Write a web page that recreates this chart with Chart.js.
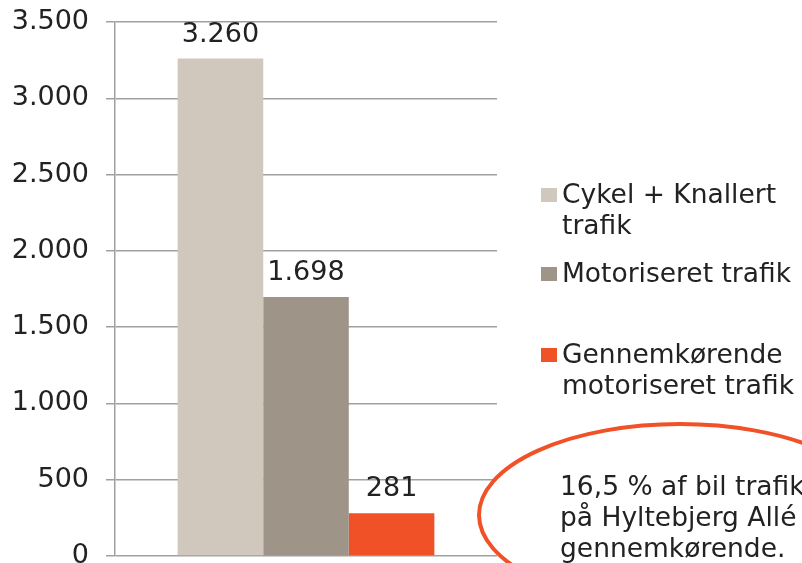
<!DOCTYPE html>
<html>
<head>
<meta charset="utf-8">
<script src="https://cdn.jsdelivr.net/npm/chart.js@4"></script>
<style>
  html, body { margin: 0; padding: 0; background: #fff; }
  #wrap { width: 802px; height: 563px; }
</style>
</head>
<body>
<div id="wrap"><canvas id="chart" width="802" height="563"></canvas></div>
<script>
// Data
const categories = ['Hyltebjerg Allé'];
const seriesNames = [
    ['Cykel + Knallert', 'trafik'],
    ['Motoriseret trafik'],
    ['Gennemkørende', 'motoriseret trafik'],
];
const cykelValues = [3260];
const motorValues = [1698];
const gennemValues = [281];
const yTicks = [0, 500, 1000, 1500, 2000, 2500, 3000, 3500];
const noteLines = ['16,5 % af bil trafikken', 'på Hyltebjerg Allé er', 'gennemkørende.'];

const FONT = "'DejaVu Sans', Verdana, sans-serif";
const colors = ['#d0c8bd', '#9e9488', '#f05127'];

// Danish thousands separator
function fmt(v) {
    return String(v).replace(/\B(?=(\d{3})+(?!\d))/g, '.');
}

// value labels above the bars
const valueLabels = {
    id: 'valueLabels',
    afterDatasetsDraw(chart) {
        const ctx = chart.ctx;
        ctx.save();
        ctx.font = '27px ' + FONT;
        ctx.fillStyle = '#222';
        ctx.textAlign = 'center';
        ctx.textBaseline = 'alphabetic';
        chart.data.datasets.forEach((ds, i) => {
            chart.getDatasetMeta(i).data.forEach((bar, j) => {
                ctx.fillText(fmt(ds.data[j]), bar.x, bar.y - 17);
            });
        });
        ctx.restore();
    }
};

// legend on the right and the circled note
const sideBits = {
    id: 'sideBits',
    afterDraw(chart) {
        const ctx = chart.ctx;
        ctx.save();
        ctx.font = '26.5px ' + FONT;
        ctx.textAlign = 'left';
        ctx.textBaseline = 'alphabetic';
        const rows = [[188, 203], [267, 282], [348, 363]];
        seriesNames.forEach((lines, i) => {
            ctx.fillStyle = colors[i];
            ctx.fillRect(541, rows[i][0], 16, 14);
            ctx.fillStyle = '#222';
            lines.forEach((t, k) => ctx.fillText(t, 562, rows[i][1] + k * 31));
        });

        // note ellipse
        ctx.strokeStyle = '#f05127';
        ctx.lineWidth = 4;
        ctx.beginPath();
        ctx.ellipse(680, 515, 201, 91, 0, 0, Math.PI * 2);
        ctx.stroke();
        ctx.fillStyle = '#222';
        noteLines.forEach((t, k) => ctx.fillText(t, 560, 495 + k * 31));
        ctx.restore();
    }
};

new Chart('chart', {
    type: 'bar',
    data: {
        labels: categories,
        datasets: [
            { label: seriesNames[0].join(' '), data: cykelValues, backgroundColor: colors[0] },
            { label: seriesNames[1].join(' '), data: motorValues, backgroundColor: colors[1] },
            { label: seriesNames[2].join(' '), data: gennemValues, backgroundColor: colors[2] },
        ]
    },
    options: {
        responsive: false,
        animation: false,
        layout: { padding: { top: 22, right: 305, bottom: 7, left: 0 } },
        datasets: { bar: { barPercentage: 1, categoryPercentage: 0.672 } },
        plugins: {
            legend: { display: false },
            tooltip: { enabled: false },
        },
        scales: {
            x: { display: false },
            y: {
                min: 0,
                max: 3500,
                afterBuildTicks(scale) {
                    scale.ticks = yTicks.map(v => ({ value: v }));
                },
                afterFit(scale) {
                    scale.width = 115;
                    scale.paddingTop = 0;
                    scale.paddingBottom = 0;
                },
                border: { color: '#a0a0a0', width: 1.5 },
                grid: { color: '#a0a0a0', lineWidth: 1.5, tickLength: 9 },
                ticks: {
                    padding: 17,
                    color: '#222',
                    font: { family: FONT, size: 27 },
                    callback: v => fmt(v),
                },
            }
        }
    },
    plugins: [valueLabels, sideBits]
});
</script>
</body>
</html>
